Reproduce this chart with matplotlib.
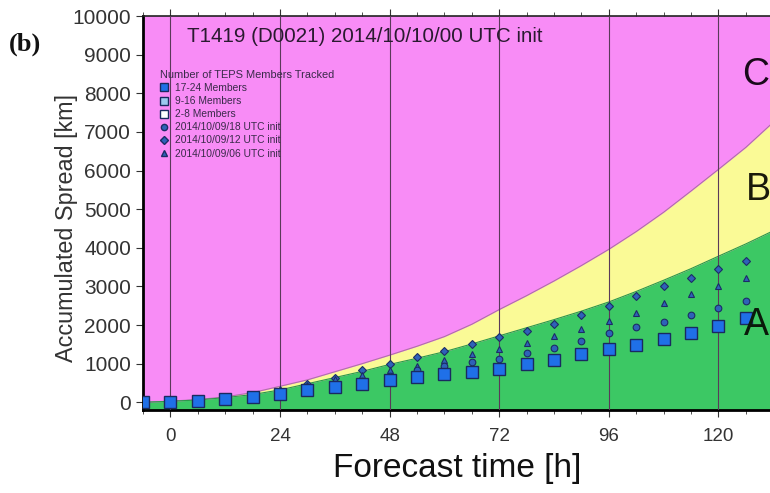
import matplotlib
matplotlib.use("Agg")
import matplotlib.pyplot as plt
from matplotlib.lines import Line2D

# forecast lead times [h]
lead_bounds = [-6, 0, 6, 12, 18, 24, 30, 36, 42, 48, 54, 60, 66, 72,
               78, 84, 90, 96, 102, 108, 114, 120, 126, 132]
# upper edge of region A (green) and region B (yellow)
top_a = [0, 25, 60, 120, 200, 320, 480, 640, 800, 980, 1140, 1310, 1510, 1720,
         1930, 2140, 2360, 2598, 2870, 3160, 3460, 3782, 4100, 4440]
top_b = [0, 30, 70, 140, 250, 414, 580, 790, 1000, 1220, 1450, 1700, 2020, 2400,
         2760, 3140, 3540, 3960, 4420, 4920, 5470, 6030, 6600, 7250]

lead_pts = [-6, 0, 6, 12, 18, 24, 30, 36, 42, 48, 54, 60, 66, 72,
            78, 84, 90, 96, 102, 108, 114, 120, 126]
# 2014/10/10/00 UTC init, 17-24 members tracked
spread_00 = [0, 10, 40, 80, 140, 205, 311, 397, 475, 580, 650, 720, 795, 872,
             978, 1088, 1244, 1368, 1477, 1632, 1796, 1978, 2193]
spread_18 = [0, 10, 40, 85, 150, 230, 340, 440, 560, 690, 829, 933, 1045, 1131,
             1269, 1408, 1580, 1788, 1960, 2090, 2263, 2444, 2634]
spread_12 = [0, 15, 50, 100, 180, 290, 470, 639, 829, 1002, 1174, 1330, 1520, 1693,
             1848, 2038, 2254, 2496, 2763, 3014, 3230, 3446, 3670]
spread_06 = [0, 15, 45, 95, 170, 340, 440, 600, 710, 829, 933, 1105, 1261, 1390,
             1546, 1727, 1891, 2098, 2323, 2573, 2815, 3005, 3221]

x_ticks = [0, 24, 48, 72, 96, 120]
y_ticks = [0, 1000, 2000, 3000, 4000, 5000, 6000, 7000, 8000, 9000, 10000]

PINK = "#f88cf6"
YELLOW = "#fafa96"
GREEN = "#3cc864"

fig = plt.figure(figsize=(7.7, 4.93), dpi=100)
ax = fig.add_axes([143 / 770, 1 - 410 / 493, 628 / 770, 394 / 493])
ax.set_xlim(-6, 131.5)
ax.set_ylim(-200, 10000)
ax.set_facecolor(PINK)

ax.fill_between(lead_bounds, top_a, top_b, color=YELLOW, lw=0, zorder=1)
ax.fill_between(lead_bounds, -200, top_a, color=GREEN, lw=0, zorder=1)
ax.plot(lead_bounds, top_b, color="#b070a8", lw=0.8, zorder=2)
ax.plot(lead_bounds, top_a, color="#2a9a4a", lw=0.8, zorder=2)

for xv in x_ticks:
    ax.axvline(xv, color="#5a3a5a", lw=0.8, zorder=3)

small = dict(ls="none", mfc="#2e62b8", mec="#1c2c66", mew=0.8, ms=4.8, zorder=4)
ax.plot(lead_pts, spread_12, marker="D", **{**small, "ms": 4.2})
ax.plot(lead_pts, spread_06, marker="^", **small)
ax.plot(lead_pts, spread_18, marker="o", **small)
ax.plot(lead_pts, spread_00, marker="s", ls="none", mfc="#1f70e8", mec="#1a2a60",
        mew=1.0, ms=8.5, zorder=5)

ax.set_xticks(x_ticks)
ax.set_xticks(range(-6, 132, 6), minor=True)
ax.set_yticks(y_ticks)
ax.tick_params(axis="both", which="both", direction="out", colors="#333333",
               top=True)
ax.tick_params(axis="y", labelsize=15)
ax.tick_params(axis="x", labelsize=13.5, pad=8)
ax.tick_params(axis="both", which="major", length=5)
ax.tick_params(axis="both", which="minor", length=3)
for lab in ax.get_xticklabels() + ax.get_yticklabels():
    lab.set_family("Liberation Sans")

ax.spines["right"].set_visible(False)
ax.spines["left"].set_linewidth(2)
ax.spines["bottom"].set_linewidth(2)
ax.spines["top"].set_linewidth(1.2)
ax.spines["top"].set_color("#222222")

ax.set_xlabel("Forecast time [h]", fontsize=24, family="Liberation Sans",
              color="#111111", labelpad=6)
ax.set_ylabel("Accumulated Spread [km]", fontsize=16.8, family="Liberation Sans",
              color="#333333")
ax.yaxis.set_label_coords(-0.1035, 0.463)

fig.text(187 / 770, 1 - 37 / 493, "T1419 (D0021) 2014/10/10/00 UTC init",
         fontsize=14.8, family="Liberation Sans", color="#2a1a30", va="center")
fig.text(742 / 770, 1 - 75 / 493, "C", fontsize=27, family="Liberation Sans",
         color="#1a0a1a", va="center")
fig.text(746 / 770, 1 - 190 / 493, "B", fontsize=27, family="Liberation Sans",
         color="#1a1a0a", va="center")
fig.text(744 / 770, 1 - 325 / 493, "A", fontsize=27, family="Liberation Sans",
         color="#0a1a0a", va="center")
fig.text(9 / 770, 1 - 44 / 493, "(b)", fontsize=19, family="Liberation Serif",
         weight="bold", color="#111111", va="center")

handles = [
    Line2D([], [], marker="s", ls="none", mfc="#1f70e8", mec="#1a2a60", ms=6),
    Line2D([], [], marker="s", ls="none", mfc="#9ccaf0", mec="#1a2a60", ms=6),
    Line2D([], [], marker="s", ls="none", mfc="white", mec="#1a2a60", ms=6),
    Line2D([], [], marker="o", ls="none", mfc="#2e62b8", mec="#1c2c66", ms=4.5),
    Line2D([], [], marker="D", ls="none", mfc="#2e62b8", mec="#1c2c66", ms=4),
    Line2D([], [], marker="^", ls="none", mfc="#2e62b8", mec="#1c2c66", ms=4.5),
]
labels = ["17-24 Members", "9-16 Members", "2-8 Members",
          "2014/10/09/18 UTC init", "2014/10/09/12 UTC init", "2014/10/09/06 UTC init"]
leg = ax.legend(handles, labels, title="Number of TEPS Members Tracked",
                loc="upper left", bbox_to_anchor=(160 / 770, 1 - 70 / 493),
                bbox_transform=fig.transFigure, frameon=False, fontsize=7.4,
                title_fontsize=7.9, alignment="left", labelspacing=0.3,
                handlelength=0.8, handletextpad=0.7, borderpad=0, borderaxespad=0)
for t in leg.get_texts() + [leg.get_title()]:
    t.set_color("#3a2a4a")
    t.set_family("Liberation Sans")

fig.savefig("out.png", dpi=100)
